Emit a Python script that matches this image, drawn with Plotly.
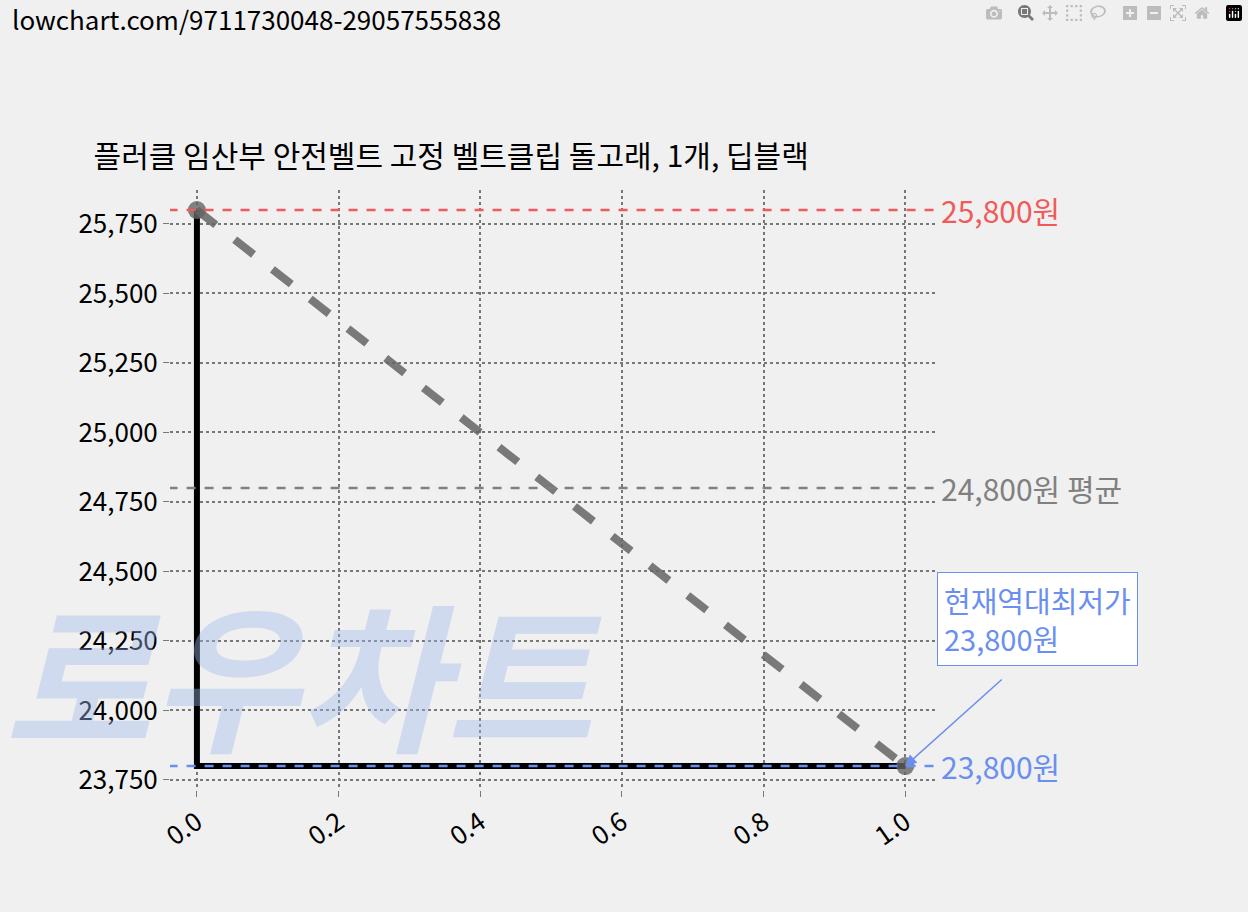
import plotly.graph_objects as go

title = "플러클 임산부 안전벨트 고정 벨트클립 돌고래, 1개, 딥블랙"
url_text = "lowchart.com/9711730048-29057555838"
x_pts = [0.0, 1.0]
prices = [25800, 23800]
max_price = 25800
avg_price = 24800
min_price = 23800
y_ticks = [23750, 24000, 24250, 24500, 24750, 25000, 25250, 25500, 25750]
x_ticks = [0.0, 0.2, 0.4, 0.6, 0.8, 1.0]

font = "Noto Sans CJK KR"
fig = go.Figure()

# watermark
fig.add_annotation(text="<b><i>로우차트</i></b>", x=-0.22, y=0.2, xref="paper", yref="paper",
                   xanchor="left", yanchor="middle", showarrow=False,
                   font=dict(family=font, size=160, color="rgba(160,185,235,0.4)"))

# step line (black)
fig.add_trace(go.Scatter(x=[x_pts[0], x_pts[0], x_pts[1]], y=[prices[0], prices[1], prices[1]],
                         mode="lines", line=dict(color="black", width=6), showlegend=False))
# trend dashed
fig.add_trace(go.Scatter(x=x_pts, y=prices, mode="lines+markers",
                         line=dict(color="rgba(100,100,100,0.85)", width=8, dash="dash"),
                         marker=dict(size=18, color="rgba(100,100,100,0.8)"), showlegend=False))

for val, col, txt in [(max_price, "#f05a5a", "25,800원"), (avg_price, "#808080", "24,800원 평균"),
                      (min_price, "#6a8ff0", "23,800원")]:
    fig.add_shape(type="line", xref="x", yref="y", x0=-0.04, x1=1.04, y0=val, y1=val,
                  line=dict(color=col, width=2.5, dash="dash"))
    fig.add_annotation(text=txt, x=1.005, y=val, xref="paper", yref="y", xanchor="left",
                       showarrow=False, font=dict(family=font, size=30, color=col))

# arrow to the minimum
fig.add_annotation(text="", x=1.0, y=min_price, xref="x", yref="y", ax=98, ay=-88,
                   showarrow=True, arrowhead=2, arrowsize=1.5, arrowcolor="#6a8ff0", arrowwidth=1.5)
fig.add_annotation(text="현재역대최저가<br>23,800원", x=1.0026, y=0.285, xref="paper", yref="paper",
                   xanchor="left", yanchor="middle", align="left", showarrow=False,
                   bgcolor="white", bordercolor="#6a8ff0", borderwidth=1, borderpad=6,
                   font=dict(family=font, size=29, color="#6a8ff0"))

fig.add_annotation(text=url_text, x=-0.222, y=1.317, xref="paper", yref="paper",
                   xanchor="left", yanchor="top", xshift=10, yshift=2, showarrow=False,
                   font=dict(family=font, size=26, color="black"))

fig.update_layout(
    width=1248, height=912, paper_bgcolor="#f0f0f0", plot_bgcolor="#f0f0f0",
    margin=dict(l=170, r=313, t=190, b=122),
    title=dict(text=title, x=0.075, y=0.84, xanchor="left", font=dict(family=font, size=30, color="black")),
    font=dict(family=font, size=26, color="black"),
)
fig.update_xaxes(range=[-0.038, 1.042], tickvals=x_ticks, ticktext=[f"{v:.1f}" for v in x_ticks],
                 tickangle=-35, showgrid=True, gridcolor="#777", griddash="dot", gridwidth=2,
                 zeroline=False, showline=False, ticks="outside", ticklen=6, tickcolor="#777")
fig.update_yaxes(range=[23714, 25872], tickvals=y_ticks, ticktext=[f"{v:,}" for v in y_ticks],
                 showgrid=True, gridcolor="#777", griddash="dot", gridwidth=2,
                 zeroline=False, showline=False, ticks="outside", ticklen=6, tickcolor="#777")
fig.write_html("out.html", post_script="document.body.style.margin='0';")
